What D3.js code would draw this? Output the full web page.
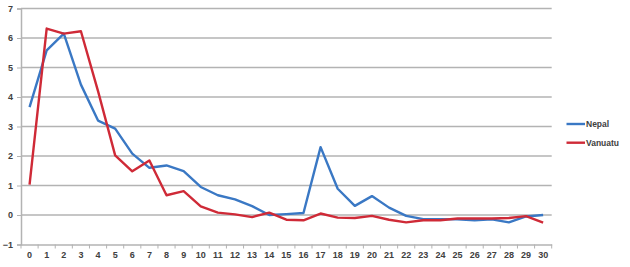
<!DOCTYPE html>
<html><head><meta charset="utf-8">
<script src="https://cdn.jsdelivr.net/npm/d3@7"></script>
<style>body{margin:0;background:#fff}svg{display:block}text{font-family:"Liberation Sans",Arial,sans-serif}</style>
</head><body><svg id="c" width="630" height="267"></svg>
<script>
const categories = d3.range(0, 31).map(String);
const nepal = [3.66,5.58,6.15,4.42,3.2,2.93,2.08,1.6,1.68,1.49,0.95,0.67,0.53,0.3,0.0,0.03,0.07,2.3,0.89,0.31,0.64,0.25,-0.03,-0.14,-0.14,-0.15,-0.18,-0.15,-0.25,-0.05,0.0];
const vanuatu = [1.03,6.32,6.15,6.23,4.2,2.02,1.48,1.85,0.67,0.81,0.29,0.08,0.02,-0.07,0.08,-0.16,-0.18,0.05,-0.09,-0.1,-0.03,-0.16,-0.25,-0.18,-0.18,-0.12,-0.12,-0.12,-0.1,-0.04,-0.26];
const yTicks = [-1,0,1,2,3,4,5,6,7];
const seriesNames = ["Nepal","Vanuatu"];
const colors = ["#3a78c4","#cf2a37"];

const svg = d3.select("#c");
const mLeft = 21, mRight = 551.7, mTop = 8.5, mBottom = 244.5;
const x = d3.scaleBand().domain(categories).range([mLeft, mRight]);
const y = d3.scaleLinear().domain([-1, 7]).range([mBottom, mTop]);

// gridlines
svg.append("g").selectAll("line").data(yTicks.filter(t => t !== -1)).join("line")
  .attr("x1", mLeft).attr("x2", mRight)
  .attr("y1", d => y(d)).attr("y2", d => y(d))
  .attr("stroke", "#b3b3b3").attr("stroke-width", 1.3);

// y axis
const ya = svg.append("g").attr("transform", `translate(${mLeft},0)`)
  .call(d3.axisLeft(y).tickValues(yTicks).tickSize(4).tickFormat(d3.format("d")));
ya.select(".domain").attr("stroke", "#b3b3b3").attr("stroke-width", 1.5);
ya.selectAll(".tick line").attr("stroke", "#b3b3b3");
ya.selectAll(".tick text").attr("x", -8).attr("font-size", 9).attr("fill", "#404040").attr("font-weight", "bold")
  .attr("font-family", "Liberation Sans, Arial, sans-serif");

// x axis
const xa = svg.append("g").attr("transform", `translate(0,${mBottom})`)
  .call(d3.axisBottom(x).tickSize(0));
xa.select(".domain").attr("stroke", "#b3b3b3").attr("stroke-width", 1.5);
xa.selectAll(".tick text").attr("dy", "0.85em").attr("y", 6).attr("font-size", 9).attr("fill", "#404040")
  .attr("font-weight", "bold").attr("font-family", "Liberation Sans, Arial, sans-serif");
// tick marks between categories
const bounds = categories.map(c => x(c)).concat([x(categories[categories.length-1]) + x.bandwidth()]);
svg.append("g").selectAll("line").data(bounds).join("line")
  .attr("x1", d => d).attr("x2", d => d).attr("y1", mBottom).attr("y2", mBottom + 4)
  .attr("stroke", "#b3b3b3").attr("stroke-width", 1);

const line = d3.line().x((d, i) => x(categories[i]) + x.bandwidth() / 2).y(d => y(d));
[nepal, vanuatu].forEach((s, k) => {
  svg.append("path").datum(s).attr("d", line).attr("fill", "none")
    .attr("stroke", colors[k]).attr("stroke-width", 2.4).attr("stroke-linejoin", "round");
});

// legend
const lg = svg.append("g");
seriesNames.forEach((n, k) => {
  const ly = 124 + k * 18.7;
  lg.append("line").attr("x1", 566.5).attr("x2", 585).attr("y1", ly).attr("y2", ly)
    .attr("stroke", colors[k]).attr("stroke-width", 2.4);
  lg.append("text").attr("x", 586).attr("y", ly).attr("dy", "0.35em").attr("font-size", 8.5)
    .attr("fill", "#404040").attr("font-weight", "bold").text(n);
});
</script></body></html>
